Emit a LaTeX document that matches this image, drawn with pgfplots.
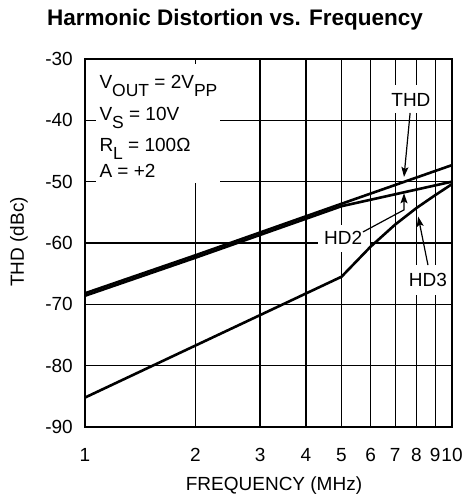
\documentclass[border=0pt]{standalone}
\usepackage{fontspec}
\setmainfont{Liberation Sans}
\usepackage{pgfplots}
\pgfplotsset{compat=1.18}
\usetikzlibrary{arrows.meta}
\newcommand\ff{\fontsize{19bp}{22bp}\selectfont}
\newcommand\sub[1]{\raisebox{-8bp}{\fontsize{17.5bp}{20bp}\selectfont #1}}
\begin{document}
\begin{tikzpicture}
\begin{axis}[
  set layers,
  scale only axis, width=367bp, height=368bp,
  xmode=log, xmin=1, xmax=10, ymin=-90, ymax=-30,
  xtick={1,2,3,4,5,6,7,8,9,10},
  xticklabels={1,2,3,4,5,6,7,8,9,10},
  ytick={-90,-80,-70,-60,-50,-40,-30},
  yticklabels={-90,-80,-70,-60,-50,-40,-30},
  minor xtick={}, major tick length=0pt,
  grid=major, grid style={black, line width=1.25bp},
  axis line style={black, line width=2bp},
  clip=false,
  xticklabel style={font=\ff, anchor=base, yshift=-34bp},
  yticklabel style={font=\ff, anchor=east, inner sep=0pt, xshift=-12bp},
  xlabel={FREQUENCY (MHz)},
  xlabel style={font=\ff, at={(rel axis cs:0.515,0)}, anchor=base, yshift=-63bp},
  ylabel={THD (dBc)},
  ylabel style={font=\ff, at={(rel axis cs:-0.18,0.503)}, anchor=center},
]
% white patches over the grid, under the curves
\begin{pgfonlayer}{axis tick labels}
\fill[white] (axis cs:1.072,-30.8) rectangle (axis cs:2.332,-50.2);
\fill[white] (axis cs:6.865,-34.24) rectangle (axis cs:8.71,-38.8);
\fill[white] (axis cs:4.315,-57.07) rectangle (axis cs:5.98,-61.47);
\fill[white] (axis cs:7.7,-63.6) rectangle (axis cs:9.6,-68.5);
\end{pgfonlayer}

% HD3
\addplot[black, line width=2.6bp] coordinates {
  (1,-85.2) (5,-65.5) (6,-60.6) (7,-57.0) (8,-54.3) (9,-52.2) (10,-50.4)};
% HD2
\addplot[black, line width=2.6bp] coordinates {
  (1,-68.6) (2,-62.4) (5,-54.0) (10,-50.0)};
% THD
\addplot[black, line width=2.6bp] coordinates {
  (1,-68.2) (2,-62.0) (5,-53.6) (10,-47.3)};

% conditions
\node[anchor=base west, inner sep=0pt, font=\ff] at (axis cs:1.094,-34.73) {V\sub{OUT} = 2V\sub{PP}};
\node[anchor=base west, inner sep=0pt, font=\ff] at (axis cs:1.094,-39.95) {V\sub{S} = 10V};
\node[anchor=base west, inner sep=0pt, font=\ff] at (axis cs:1.094,-45.16) {R\sub{L} = 100Ω};
\node[anchor=base west, inner sep=0pt, font=\ff] at (axis cs:1.094,-49.24) {A = +2};

% curve labels
\node[font=\ff, inner sep=0pt] at (axis cs:7.73,-36.7) {THD};
\node[font=\ff, inner sep=0pt] at (axis cs:5.05,-59.2) {HD2};
\node[font=\ff, inner sep=0pt] at (axis cs:8.60,-65.95) {HD3};
\draw[line width=1.2bp, -{Stealth[length=10bp,width=7bp,inset=2bp]}]
  (axis cs:7.69,-38.8) -- (axis cs:7.40,-49.24);
\draw[line width=1.2bp, -{Stealth[length=10bp,width=7bp,inset=2bp]}]
  (axis cs:5.72,-58.2) -- (axis cs:7.40,-54.6) -- (axis cs:7.40,-51.9);
\draw[line width=1.2bp, -{Stealth[length=10bp,width=7bp,inset=2bp]}]
  (axis cs:8.60,-63.6) -- (axis cs:8.09,-55.7);

% title
\node[anchor=base, font=\fontsize{22.5bp}{26bp}\selectfont\bfseries] at (rel axis cs:0.4087,1.0897) {Harmonic Distortion vs. Frequency};
\end{axis}
\path (current axis.south west) ++(-85bp,-74bp) rectangle ++(469bp,501bp);
\end{tikzpicture}
\end{document}
